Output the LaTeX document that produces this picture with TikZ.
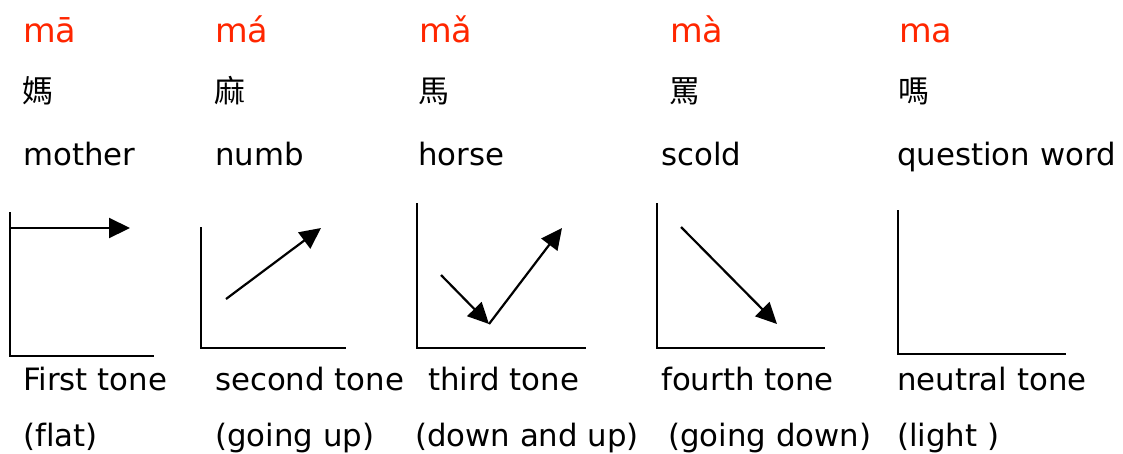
\documentclass[tikz,border=0pt]{standalone}
\usepackage{fontspec}
\setmainfont[Ligatures=NoCommon]{DejaVu Sans}
\newfontfamily\cjk{Noto Sans CJK TC}
\usetikzlibrary{arrows.meta}
\definecolor{pyred}{RGB}{255,38,0}
\tikzset{
  lbl/.style={anchor=base west, inner sep=0pt, font=\fontsize{30.8}{36}\selectfont},
  py/.style={anchor=base west, inner sep=0pt, text=pyred, font=\fontsize{33.5}{38}\selectfont},
  hz/.style={anchor=base west, inner sep=0pt, font=\cjk\fontsize{31}{34}\selectfont},
  axis/.style={line width=2.2pt},
  tonearrow/.style={line width=2.2pt, -{Triangle[length=21pt,width=20pt]}}
}
\begin{document}
\begin{tikzpicture}[x=1pt,y=-1pt]
\useasboundingbox (0,0) rectangle (1123,453);
% pinyin
\node[py] (p1) at (23,42) {mā};
\node[py] (p2) at (215,42) {má};
\node[py] (p3) at (419,42) {mǎ};
\node[py] (p4) at (670,42) {mà};
\node[py] (p5) at (899,42) {ma};
% characters
\node[hz] (h1) at (22,102) {媽};
\node[hz] (h2) at (214,102) {麻};
\node[hz] (h3) at (418,102) {馬};
\node[hz] (h4) at (669,102) {罵};
\node[hz] (h5) at (898,102) {嗎};
% meanings
\node[lbl] (m1) at (23,165) {mother};
\node[lbl] (m2) at (215,165) {numb};
\node[lbl] (m3) at (418,165) {horse};
\node[lbl] (m4) at (661,165) {scold};
\node[lbl] (m5) at (897,165) {question word};
% tone names
\node[lbl] (t1) at (23,390) {First tone};
\node[lbl] (t2) at (215,390) {second tone};
\node[lbl] (t3) at (428,390) {third tone};
\node[lbl] (t4) at (661,390) {fourth tone};
\node[lbl] (t5) at (897,390) {neutral tone};
% descriptions
\node[lbl] (d1) at (23,446) {(flat)};
\node[lbl] (d2) at (215,446) {(going up)};
\node[lbl] (d3) at (415,446) {(down and up)};
\node[lbl] (d4) at (668,446) {(going down)};
\node[lbl] (d5) at (897,446) {(light )};
% graph 1
\draw[axis] (10,212) -- (10,356) -- (154,356);
\coordinate (a1s) at (10,228);
\coordinate (a1e) at (130,228);
\draw[tonearrow] (a1s) -- (a1e);
% graph 2
\draw[axis] (201,227) -- (201,348) -- (346,348);
\coordinate (a2s) at (226,299);
\coordinate (a2e) at (321,228);
\draw[tonearrow] (a2s) -- (a2e);
% graph 3
\draw[axis] (417,203) -- (417,348) -- (586,348);
\coordinate (a3s) at (441,275);
\coordinate (a3m) at (489,324);
\coordinate (a3e) at (562,228);
\draw[tonearrow] (a3s) -- (a3m);
\draw[tonearrow] (a3m) -- (a3e);
% graph 4
\draw[axis] (657,203) -- (657,348) -- (825,348);
\coordinate (a4s) at (681,227);
\coordinate (a4e) at (777,324);
\draw[tonearrow] (a4s) -- (a4e);
% graph 5
\draw[axis] (898,210) -- (898,354) -- (1066,354);
\end{tikzpicture}
\end{document}
